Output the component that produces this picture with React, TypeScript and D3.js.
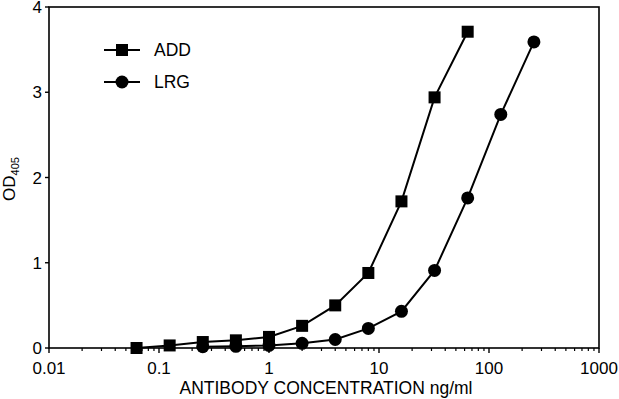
import React from "react";
import * as d3 from "d3";

const concADD = [0.0625, 0.125, 0.25, 0.5, 1, 2, 4, 8, 16, 32, 64];
const odADD = [0.0, 0.03, 0.07, 0.09, 0.13, 0.26, 0.5, 0.88, 1.72, 2.94, 3.71];
const concLRG = [0.25, 0.5, 1, 2, 4, 8, 16, 32, 64, 128, 256];
const odLRG = [0.015, 0.02, 0.03, 0.055, 0.1, 0.23, 0.43, 0.91, 1.76, 2.74, 3.59];
const xTickValues = [0.01, 0.1, 1, 10, 100, 1000];
const xTickLabels = ["0.01", "0.1", "1", "10", "100", "1000"];
const yTickValues = [0, 1, 2, 3, 4];

const W = 619, H = 399;
const left = 49, right = 599, top = 7, bottom = 348;
const FONT = "'Liberation Sans', Arial, Helvetica, sans-serif";

export default function App() {
  const x = d3.scaleLog().domain([0.01, 1000]).range([left, right]);
  const y = d3.scaleLinear().domain([0, 4]).range([bottom, top]);
  const line = d3.line<[number, number]>().x(d => x(d[0])).y(d => y(d[1]));
  const add: [number, number][] = concADD.map((c, i) => [c, odADD[i]]);
  const lrg: [number, number][] = concLRG.map((c, i) => [c, odLRG[i]]);
  const minor: number[] = [];
  for (let e = -2; e < 3; e++) for (let m = 2; m <= 9; m++) minor.push(m * Math.pow(10, e));
  return (
    <svg width={W} height={H} style={{ position: "absolute", left: 0, top: 0, background: "#fff" }} fontFamily={FONT}>
      <rect x={left} y={top} width={right - left} height={bottom - top} fill="none" stroke="#000" strokeWidth={1.6} />
      {xTickValues.map((v, i) => (
        <g key={v}>
          <line x1={x(v)} x2={x(v)} y1={bottom} y2={bottom + 5} stroke="#000" strokeWidth={1.4} />
          <text x={x(v)} y={bottom + 26} fontSize={17} textAnchor="middle">{xTickLabels[i]}</text>
        </g>
      ))}
      {minor.map(v => (
        <line key={v} x1={x(v)} x2={x(v)} y1={bottom} y2={bottom + 3} stroke="#000" strokeWidth={1.2} />
      ))}
      {yTickValues.map(v => (
        <g key={v}>
          <line x1={left - 4} x2={left} y1={y(v)} y2={y(v)} stroke="#000" strokeWidth={1.4} />
          <text x={left - 7} y={y(v) + 6} fontSize={17} textAnchor="end">{v}</text>
        </g>
      ))}
      <text x={326} y={394} fontSize={17.5} textAnchor="middle">ANTIBODY CONCENTRATION ng/ml</text>
      <text transform={`translate(15, ${179}) rotate(-90)`} fontSize={17} textAnchor="middle">
        OD<tspan fontSize={11} dy={4}>405</tspan>
      </text>
      <path d={line(add) || ""} fill="none" stroke="#000" strokeWidth={2} />
      <path d={line(lrg) || ""} fill="none" stroke="#000" strokeWidth={2} />
      {add.map((d, i) => (
        <rect key={i} x={x(d[0]) - 6} y={y(d[1]) - 6} width={12} height={12} fill="#000" />
      ))}
      {lrg.map((d, i) => (
        <circle key={i} cx={x(d[0])} cy={y(d[1])} r={6.5} fill="#000" />
      ))}
      <g>
        <line x1={104} x2={140} y1={50} y2={50} stroke="#000" strokeWidth={2} />
        <rect x={116} y={44} width={12} height={12} fill="#000" />
        <text x={154} y={56} fontSize={17.5}>ADD</text>
        <line x1={104} x2={140} y1={82} y2={82} stroke="#000" strokeWidth={2} />
        <circle cx={122} cy={82} r={6.5} fill="#000" />
        <text x={154} y={88} fontSize={17.5}>LRG</text>
      </g>
    </svg>
  );
}
